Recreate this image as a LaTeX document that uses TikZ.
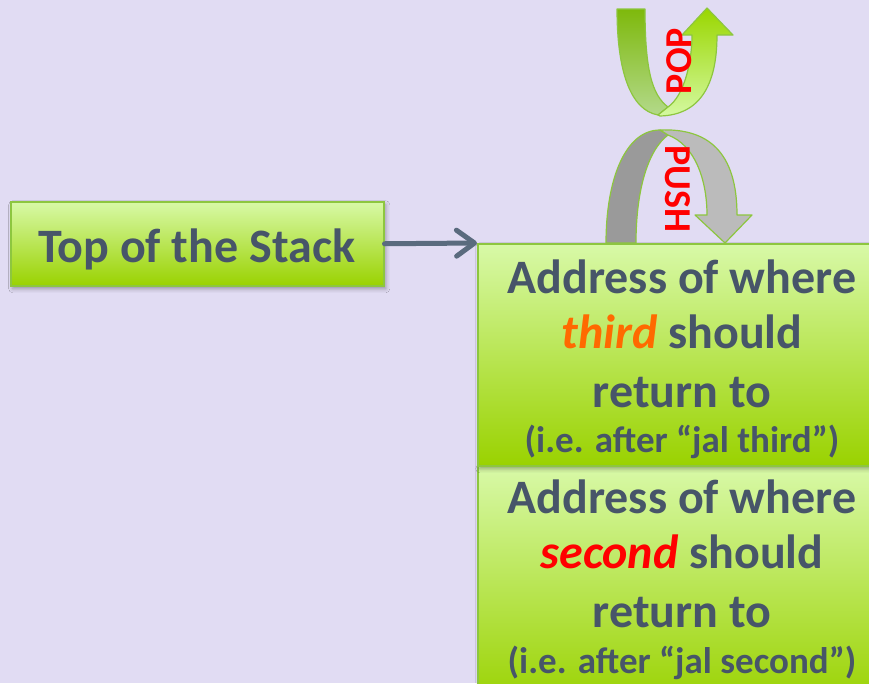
\documentclass[tikz,border=0pt]{standalone}
\usepackage{fontspec}
\setmainfont{Carlito}
\usetikzlibrary{arrows.meta,shadows.blur}

\definecolor{bg}{HTML}{E1DCF3}
\definecolor{ink}{HTML}{475569}
\definecolor{edgegreen}{HTML}{8DC63F}
\definecolor{boxtop}{HTML}{D8F9A8}
\definecolor{boxbot}{HTML}{9AD200}
\definecolor{pointer}{HTML}{5A6B7E}
\definecolor{thirdc}{HTML}{FF6A00}
\definecolor{secondc}{HTML}{FF0000}
\definecolor{popdarktop}{HTML}{7EB90C}
\definecolor{popdarkbot}{HTML}{B3D98A}
\definecolor{poplighttop}{HTML}{9AD600}
\definecolor{poplightbot}{HTML}{D4F9A0}
\definecolor{pushdark}{HTML}{9A9A9A}
\definecolor{pushlight}{HTML}{BBBBBB}

\tikzset{
  greenbox/.style={draw=edgegreen, line width=1.5pt, top color=boxtop, bottom color=boxbot,
    inner sep=0pt, anchor=north west,
    blur shadow={shadow xshift=2pt, shadow yshift=-3pt, shadow blur radius=4pt, shadow opacity=35}},
  bigtext/.style={font=\fontsize{48}{56}\selectfont\bfseries, text=ink, inner sep=0pt, anchor=base},
  smalltext/.style={font=\fontsize{37}{42}\selectfont\bfseries, text=ink, inner sep=0pt, anchor=base},
  stacklabel/.style={font=\fontsize{38}{42}\selectfont\bfseries, text=secondc, inner sep=0pt},
  ribbon/.style={draw=edgegreen, line width=1.2pt, line join=round},
}

\begin{document}
\begin{tikzpicture}[x=1pt, y=-1pt]
  % page and background
  \useasboundingbox (0,0) rectangle (869,683);
  \fill[bg] (0,0) rectangle (869,683);
  \clip (0,0) rectangle (869,683);

  % label box on the left
  \node[greenbox, minimum width=373pt, minimum height=84pt] (top) at (10,201) {};
  \node[bigtext] (toptext) at (196.5,262) {Top of the Stack};

  % stack entries (lower one first so the upper one's shadow falls on it)
  \node[greenbox, minimum width=420pt, minimum height=240pt] (ret2) at (477,465) {};
  \node[greenbox, minimum width=420pt, minimum height=222pt] (ret3) at (477,243) {};

  % upper entry text
  \node[bigtext] (r3a) at (682,293) {Address of where};
  \node[bigtext] (r3b) at (682,348) {{\itshape\color{thirdc}third} should};
  \node[bigtext] (r3c) at (682,407) {return to};
  \node[smalltext] (r3d) at (682,452) {(i.e. after “jal third”)};

  % lower entry text
  \node[bigtext] (r2a) at (682,513) {Address of where};
  \node[bigtext] (r2b) at (682,568) {{\itshape\color{secondc}second} should};
  \node[bigtext] (r2c) at (682,627) {return to};
  \node[smalltext] (r2d) at (682,673) {(i.e. after “jal second”)};

  % pointer from the label to the top entry
  \draw[pointer, line width=5pt, line cap=round,
        -{Straight Barb[length=18pt, width=26pt, round]}] (top.east) -- (ret3.north west);

  % POP: U-turn ribbon going up
  \path[ribbon, top color=popdarktop, bottom color=popdarkbot]
    (617,9) -- (645,9) .. controls (645,70) and (652,95) .. (668,107)
    -- (658,115) .. controls (630,110) and (617,70) .. cycle;
  \path[ribbon, top color=poplighttop, bottom color=poplightbot]
    (658,115) -- (668,107) .. controls (685,95) and (692,60) .. (692,35)
    -- (682,35) -- (707,8) -- (733,35) -- (717,35)
    .. controls (717,85) and (700,115) .. (660,116) -- cycle;
  \node[stacklabel, rotate=90] (pop) at (679,61) {POP};

  % PUSH: arch ribbon going down onto the stack
  \path[ribbon, fill=pushdark]
    (606,243) .. controls (606,180) and (625,130) .. (660,130)
    -- (668,135) .. controls (648,150) and (636,190) .. (636,243) -- cycle;
  \path[ribbon, fill=pushlight]
    (660,130) .. controls (708,128) and (737,152) .. (737,215)
    -- (752,215) -- (725,243) -- (695,215) -- (707,215)
    .. controls (707,180) and (695,145) .. (668,135) -- cycle;
  \node[stacklabel, rotate=-90] (push) at (678,189) {PUSH};
\end{tikzpicture}
\end{document}
